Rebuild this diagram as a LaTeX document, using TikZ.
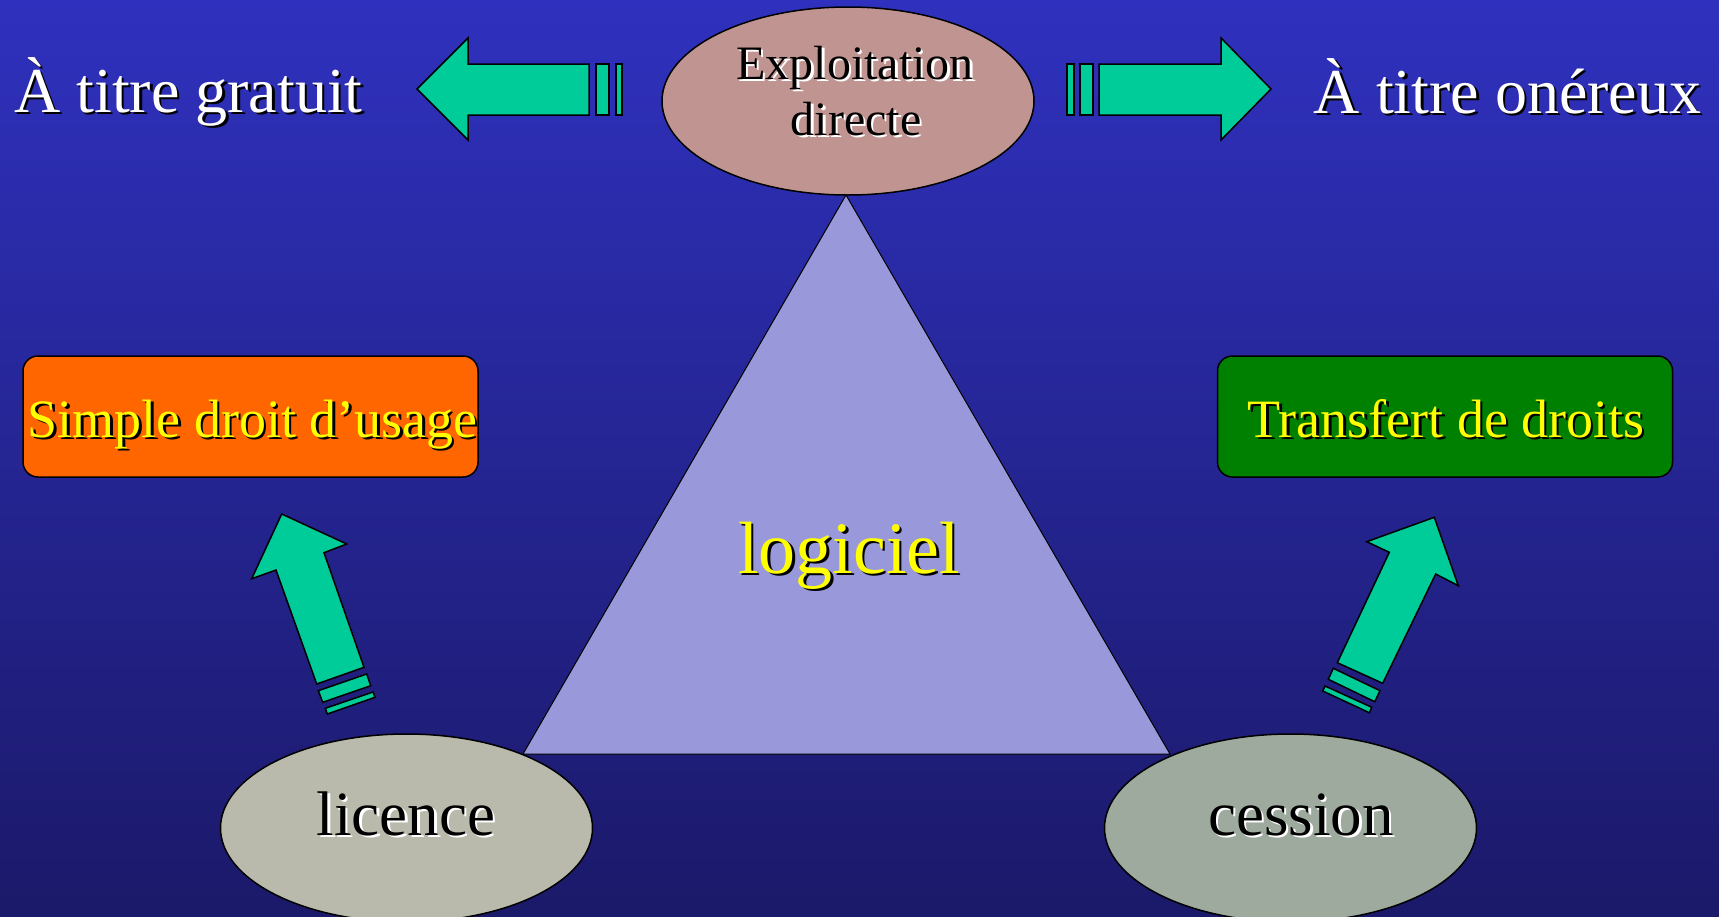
\documentclass[tikz,border=0pt]{standalone}
\usepackage{fontspec}
\setmainfont{Liberation Serif}
\usetikzlibrary{shapes.geometric}
\definecolor{bgtop}{RGB}{47,49,190}
\definecolor{bgbot}{RGB}{27,25,105}
\definecolor{arrowgreen}{RGB}{0,204,153}
\definecolor{rosy}{RGB}{192,148,144}
\definecolor{lavender}{RGB}{152,152,218}
\definecolor{licgray}{RGB}{185,185,172}
\definecolor{cesgray}{RGB}{157,170,157}
\definecolor{boxorange}{RGB}{255,102,0}
\definecolor{boxgreen}{RGB}{0,128,0}
\definecolor{txtyellow}{RGB}{255,255,0}
\newcommand\shtxt[3]{\leavevmode\rlap{\kern2.5pt\raisebox{-2.5pt}{\color{#1}#3}}{\color{#2}#3}}
\begin{document}
\begin{tikzpicture}[x=1pt,y=-1pt,
  arrowshape/.style={fill=arrowgreen, draw=black, line width=1.5pt, line join=miter},
  ovalnode/.style={ellipse, draw=black, line width=1.5pt, minimum width=372pt, minimum height=188pt, inner sep=0pt},
  roundbox/.style={draw=black, line width=1.5pt, rounded corners=15pt, minimum width=455pt, minimum height=121pt, inner sep=0pt},
  txt/.style={anchor=base, inner sep=0pt}]
\useasboundingbox (0,0) rectangle (1719,916);
\shade[top color=bgtop, bottom color=bgbot] (0,0) rectangle (1719,916);

% triangle
\coordinate (apex) at (846,195);
\coordinate (bl) at (523,754);
\coordinate (br) at (1170,754);
\draw[fill=lavender, line width=1pt] (apex) -- (bl) -- (br) -- cycle;

% ellipses
\node[ovalnode, fill=rosy] (expl) at (848,101) {};
\node[ovalnode, fill=licgray] (lic) at (406.5,828) {};
\node[ovalnode, fill=cesgray] (ces) at (1290.5,828) {};

% boxes
\node[roundbox, fill=boxorange] (usage) at (250.5,416.5) {};
\node[roundbox, fill=boxgreen] (transf) at (1445,416.5) {};

% top arrows
\draw[arrowshape] (417,89) -- (468,38) -- (468,64) -- (589,64) -- (589,115) -- (468,115) -- (468,140) -- cycle;
\draw[arrowshape] (596,64) rectangle (609,115);
\draw[arrowshape] (616,64) rectangle (622,115);
\draw[arrowshape] (1271,89) -- (1221,38) -- (1221,64) -- (1099,64) -- (1099,115) -- (1221,115) -- (1221,140) -- cycle;
\draw[arrowshape] (1080,64) rectangle (1093,115);
\draw[arrowshape] (1067,64) rectangle (1074,115);

% lower-left arrow
\draw[arrowshape] (281.7,514) -- (346.7,544) -- (324,552.7) -- (364,667.3) -- (316.7,684) -- (276,570) -- (251.7,578.7) -- cycle;
\draw[arrowshape] (318.3,690.7) -- (366.7,674) -- (370.7,685.7) -- (322.7,702.3) -- cycle;
\draw[arrowshape] (325.3,708.3) -- (373,692) -- (375,697.3) -- (327.3,714) -- cycle;

% lower-right arrow
\draw[arrowshape] (1434.3,517.3) -- (1458.3,585.7) -- (1435.7,574) -- (1382.7,683.3) -- (1337.3,662.7) -- (1389.3,552.3) -- (1366.7,541.7) -- cycle;
\draw[arrowshape] (1333.3,668.3) -- (1380,690.7) -- (1374.7,701.7) -- (1328.3,679.3) -- cycle;
\draw[arrowshape] (1325,686) -- (1371.7,707.3) -- (1369.3,712.7) -- (1322.7,691) -- cycle;

% texts
\node[txt, font=\fontsize{64}{70}\selectfont] (gratuit) at (188.5,112) {\shtxt{black}{white}{À titre gratuit}};
\node[txt, font=\fontsize{64}{70}\selectfont] (onereux) at (1507.5,113) {\shtxt{black}{white}{À titre onéreux}};
\node[txt, font=\fontsize{48}{56}\selectfont] (expl1) at (855,79) {\shtxt{white}{black}{Exploitation}};
\node[txt, font=\fontsize{48}{56}\selectfont] (expl2) at (856,135) {\shtxt{white}{black}{directe}};
\node[txt, font=\fontsize{54}{60}\selectfont] (usagetxt) at (252.5,437) {\shtxt{black}{txtyellow}{Simple droit d’usage}};
\node[txt, font=\fontsize{54}{60}\selectfont] (transftxt) at (1446,437) {\shtxt{black}{txtyellow}{Transfert de droits}};
\node[txt, font=\fontsize{74}{80}\selectfont] (logiciel) at (849,573) {\shtxt{black}{txtyellow}{logiciel}};
\node[txt, font=\fontsize{63}{70}\selectfont] (lictxt) at (406,835) {\shtxt{white}{black}{licence}};
\node[txt, font=\fontsize{63}{70}\selectfont] (cestxt) at (1301,835) {\shtxt{white}{black}{cession}};
\end{tikzpicture}
\end{document}
